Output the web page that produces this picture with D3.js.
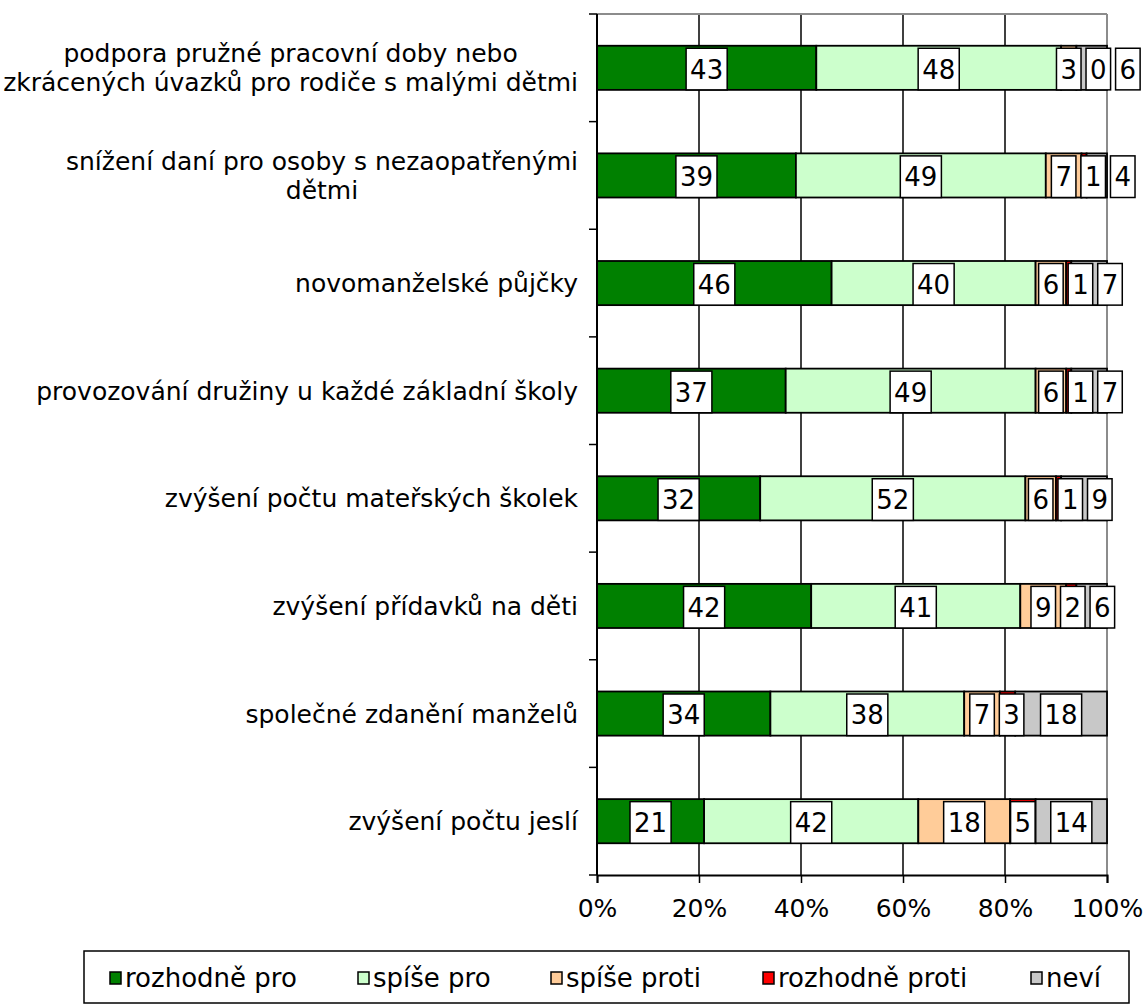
<!DOCTYPE html>
<html><head><meta charset="utf-8">
<script src="https://cdn.jsdelivr.net/npm/d3@7"></script>
<style>
body{margin:0;background:#fff}
text{font-family:"DejaVu Sans",Verdana,sans-serif;fill:#000}
</style>
</head><body>
<svg id="c" width="1146" height="1005"></svg>
<script>
// ---- data ----
const categories = [
  "podpora pružné pracovní doby nebo\nzkrácených úvazků pro rodiče s malými dětmi",
  "snížení daní pro osoby s nezaopatřenými\ndětmi",
  "novomanželské půjčky",
  "provozování družiny u každé základní školy",
  "zvýšení počtu mateřských školek",
  "zvýšení přídavků na děti",
  "společné zdanění manželů",
  "zvýšení počtu jeslí"
];
const seriesNames = ["rozhodně pro", "spíše pro", "spíše proti", "rozhodně proti", "neví"];
const rozhodnePro   = [43, 39, 46, 37, 32, 42, 34, 21];
const spisePro      = [48, 49, 40, 49, 52, 41, 38, 42];
const spiseProti    = [3, 7, 6, 6, 6, 9, 7, 18];
const rozhodneProti = [0, 1, 1, 1, 1, 2, 3, 5];
const nevi          = [6, 4, 7, 7, 9, 6, 18, 14];
const xTicks = [0, 20, 40, 60, 80, 100];
const xTickLabels = ["0%", "20%", "40%", "60%", "80%", "100%"];
const colors = ["#008000", "#CCFFCC", "#FFCC99", "#FF0000", "#C8C8C8"];

// ---- build table ----
const keys = seriesNames;
const table = categories.map((c, i) => ({
  cat: c,
  [keys[0]]: rozhodnePro[i], [keys[1]]: spisePro[i], [keys[2]]: spiseProti[i],
  [keys[3]]: rozhodneProti[i], [keys[4]]: nevi[i]
}));
const stacked = d3.stack().keys(keys)(table);

// ---- layout ----
const svg = d3.select("#c");
const L = 597, R = 1107, T = 14, B = 875;
const FS = 25, LFS = 26;
const x = d3.scaleLinear().domain([0, 100]).range([L, R]);
const y = d3.scaleBand().domain(categories).range([T, B]).paddingInner(0.59).paddingOuter(0.295);
const color = d3.scaleOrdinal().domain(keys).range(colors);

// gridlines
svg.append("g").selectAll("line").data(xTicks.filter(t => t > 0 && t < 100)).join("line")
  .attr("x1", d => x(d)).attr("x2", d => x(d)).attr("y1", T).attr("y2", B)
  .attr("stroke", "#000").attr("stroke-width", 1.5);
// plot border top / right (gray)
svg.append("line").attr("x1", L).attr("x2", R).attr("y1", T).attr("y2", T).attr("stroke", "#8c8c8c").attr("stroke-width", 2);
svg.append("line").attr("x1", R).attr("x2", R).attr("y1", T).attr("y2", B).attr("stroke", "#8c8c8c").attr("stroke-width", 2);

// bars
const gBars = svg.append("g");
stacked.forEach(s => {
  gBars.append("g").selectAll("rect").data(s).join("rect")
    .attr("x", d => x(d[0])).attr("width", d => x(d[1]) - x(d[0]))
    .attr("y", d => y(d.data.cat)).attr("height", y.bandwidth())
    .attr("fill", color(s.key)).attr("stroke", "#000").attr("stroke-width", 1.8);
});

// value labels with simple overlap avoidance
const gLab = svg.append("g");
categories.forEach((c, ci) => {
  const yc = y(c) + y.bandwidth() / 2;
  let prevRight = -Infinity;
  stacked.forEach(s => {
    const d = s[ci];
    const v = d[1] - d[0];
    const g = gLab.append("g");
    const t = g.append("text").attr("font-size", LFS).attr("text-anchor", "middle")
      .attr("dy", "0.36em").text(v);
    const w = t.node().getComputedTextLength() + 8;
    let cx = x((d[0] + d[1]) / 2);
    let left = cx - w / 2;
    if (left < prevRight + 5) left = prevRight + 5;
    cx = left + w / 2;
    prevRight = left + w;
    const bh = y.bandwidth() - 2.5;
    g.insert("rect", "text").attr("x", left).attr("y", yc - bh / 2 + 1.25).attr("width", w).attr("height", bh)
      .attr("fill", "#fff").attr("stroke", "#000").attr("stroke-width", 1.5);
    t.attr("x", cx).attr("y", yc + 1.5);
  });
});

// left axis
svg.append("line").attr("x1", L).attr("x2", L).attr("y1", T).attr("y2", B).attr("stroke", "#000").attr("stroke-width", 2);
svg.append("g").selectAll("line").data(d3.range(categories.length + 1)).join("line")
  .attr("x1", L - 8).attr("x2", L)
  .attr("y1", i => T + i * (B - T) / categories.length).attr("y2", i => T + i * (B - T) / categories.length)
  .attr("stroke", "#000").attr("stroke-width", 1.5);

// bottom axis
const xAxis = d3.axisBottom(x).tickValues(xTicks).tickSize(8).tickFormat((d, i) => xTickLabels[i]);
const gx = svg.append("g").attr("transform", `translate(0,${B})`).call(xAxis);
gx.select(".domain").attr("stroke", "#000").attr("stroke-width", 2);
gx.selectAll(".tick line").attr("stroke", "#000").attr("stroke-width", 1.5);
gx.selectAll(".tick text").attr("font-size", FS).attr("font-family", "DejaVu Sans").attr("fill", "#000")
  .attr("y", 24).attr("dy", "0.71em");

// category labels
const gCat = svg.append("g");
categories.forEach(c => {
  const lines = c.split("\n");
  const yc = y(c) + y.bandwidth() / 2;
  const lh = 29;
  const g = gCat.append("g");
  const texts = lines.map((ln, i) => g.append("text").attr("font-size", FS).attr("text-anchor", "middle")
    .attr("y", yc + (i - (lines.length - 1) / 2) * lh).attr("dy", "0.36em").text(ln));
  const maxW = d3.max(texts, t => t.node().getComputedTextLength());
  const cx = 578 - maxW / 2;
  texts.forEach(t => t.attr("x", cx));
});

// legend
svg.append("rect").attr("x", 84).attr("y", 951).attr("width", 1045).attr("height", 52)
  .attr("fill", "#fff").attr("stroke", "#000").attr("stroke-width", 1.5);
const legX = [110, 358, 551, 763, 1031];
const gLeg = svg.append("g").selectAll("g").data(keys).join("g")
  .attr("transform", (d, i) => `translate(${legX[i]},978)`);
gLeg.append("rect").attr("x", 0).attr("y", -6).attr("width", 11).attr("height", 12)
  .attr("fill", d => color(d)).attr("stroke", "#000").attr("stroke-width", 1.5);
gLeg.append("text").attr("x", 15).attr("dy", "0.36em").attr("font-size", LFS).text(d => d);
</script>
</body></html>
